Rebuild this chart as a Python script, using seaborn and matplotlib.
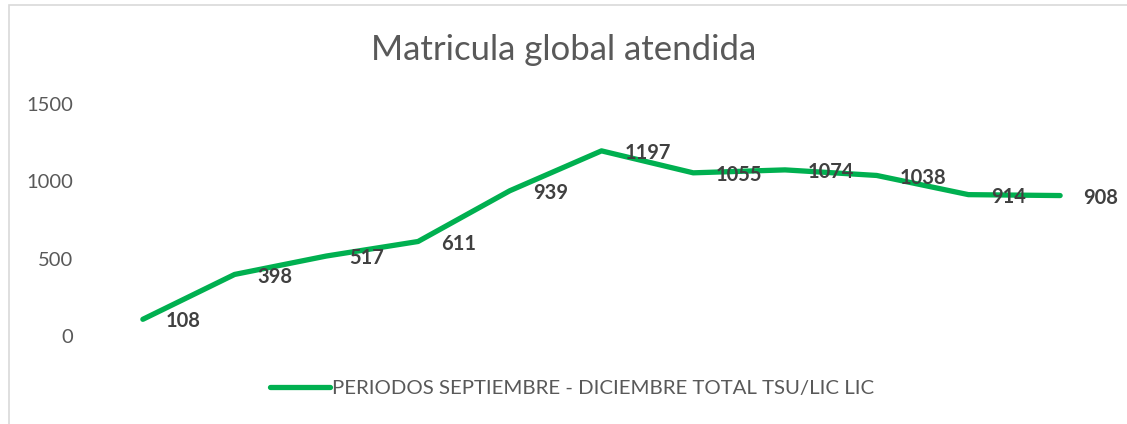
import matplotlib
matplotlib.use("Agg")
import matplotlib.pyplot as plt
import seaborn as sns
import pandas as pd
from matplotlib.patches import Rectangle

periods = list(range(1, 12))
values = [108, 398, 517, 611, 939, 1197, 1055, 1074, 1038, 914, 908]
series_name = "PERIODOS SEPTIEMBRE - DICIEMBRE TOTAL TSU/LIC LIC"
title = "Matricula global atendida"
yticks = [0, 500, 1000, 1500]

sns.set_theme(style="white")
plt.rcParams['font.family'] = ['Lato', 'DejaVu Sans']

df = pd.DataFrame({"x": range(len(values)), "value": values, "serie": series_name})

fig = plt.figure(figsize=(11.27, 4.24), dpi=100)
ax = fig.add_axes([97/1127, 1-336/424, (1106-97)/1127, (336-104)/424])

green = "#00B050"
sns.lineplot(data=df, x="x", y="value", ax=ax, color=green, linewidth=3.8,
             label=series_name, legend=False, solid_capstyle="round", solid_joinstyle="round")

for i, v in enumerate(values):
    ax.annotate(str(v), (i, v), xytext=(16.5, -1.5), textcoords="offset points",
                ha="left", va="center", fontsize=14.5, fontweight="bold", color="#404040")

ax.set_xlim(-0.5, len(values) - 0.5)
ax.set_ylim(0, 1500)
ax.set_yticks(yticks)
ax.set_yticklabels([str(t) for t in yticks], fontsize=14.5, color="#595959")
ax.tick_params(axis="y", length=0, pad=17)
ax.set_xticks([])
ax.set_xlabel("")
ax.set_ylabel("")
for s in ax.spines.values():
    s.set_visible(False)

fig.text(0.5, 1-50/424, title, ha="center", va="center", fontsize=25, color="#595959")

handles, labels = ax.get_legend_handles_labels()
leg = fig.legend(handles, labels, loc="center", bbox_to_anchor=(572/1127, 1-388/424),
                 frameon=False, fontsize=14.7, handlelength=2.95, handletextpad=0.1)
for t in leg.get_texts():
    t.set_color("#595959")

fig.patches.append(Rectangle((9/1127, -0.01), 1.0, 1-5/424 + 0.01, transform=fig.transFigure,
                             fill=False, edgecolor="#d9d9d9", linewidth=1.2))

fig.savefig("out.png", dpi=100, facecolor="white")
